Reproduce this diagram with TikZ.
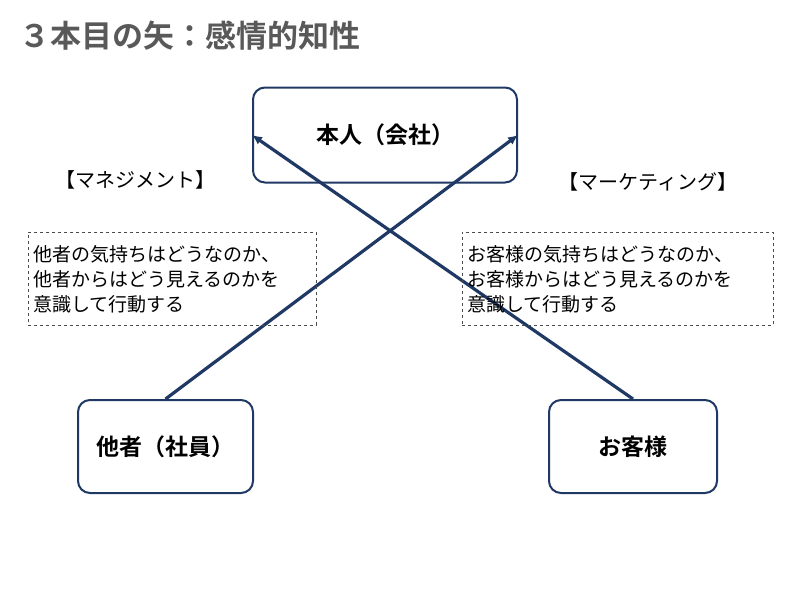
\documentclass[tikz,border=0pt]{standalone}
\usepackage{fontspec}
\usetikzlibrary{arrows.meta}
\setmainfont{Noto Sans CJK JP}[BoldFont={* Bold}]
\definecolor{navy}{HTML}{1F3864}
\definecolor{ttl}{HTML}{595959}
\begin{document}
\begin{tikzpicture}[x=1pt,y=-1pt,
  mainbox/.style={draw=navy,line width=2pt,rounded corners=12pt,fill=white,font=\fontsize{23}{27}\selectfont\bfseries},
  notebox/.style={draw=black!70,dashed,line width=0.8pt,align=left,anchor=north west,inner sep=5pt,font=\fontsize{19}{25}\selectfont},
  arr/.style={draw=navy,line width=3.2pt,-{Latex[length=10pt,width=9pt]}},
  lbl/.style={font=\fontsize{20}{22}\selectfont}]
\useasboundingbox (0,0) rectangle (800,600);
\node[anchor=west,font=\fontsize{31}{35}\selectfont\bfseries,text=ttl] (title) at (16,36) {３本目の矢：感情的知性};
\node[mainbox,minimum width=264pt,minimum height=95pt] (hon) at (385,135) {本人（会社）};
\node[mainbox,minimum width=175pt,minimum height=93pt] (ta) at (165.5,446.5) {他者（社員）};
\node[mainbox,minimum width=168pt,minimum height=93pt] (kyaku) at (633,446.5) {お客様};
\draw[arr] (ta.north) -- (hon.east);
\draw[arr] (kyaku.north) -- (hon.west);
\node[lbl] (mg) at (135,180) {【マネジメント】};
\node[lbl] (mk) at (648,182) {【マーケティング】};
\node[notebox,minimum width=288pt,minimum height=93pt,text width=278pt] (n1) at (28,232) {他者の気持ちはどうなのか、\\他者からはどう見えるのかを\\意識して行動する};
\node[notebox,minimum width=311pt,minimum height=93pt,text width=301pt] (n2) at (462,232) {お客様の気持ちはどうなのか、\\お客様からはどう見えるのかを\\意識して行動する};
\end{tikzpicture}
\end{document}
